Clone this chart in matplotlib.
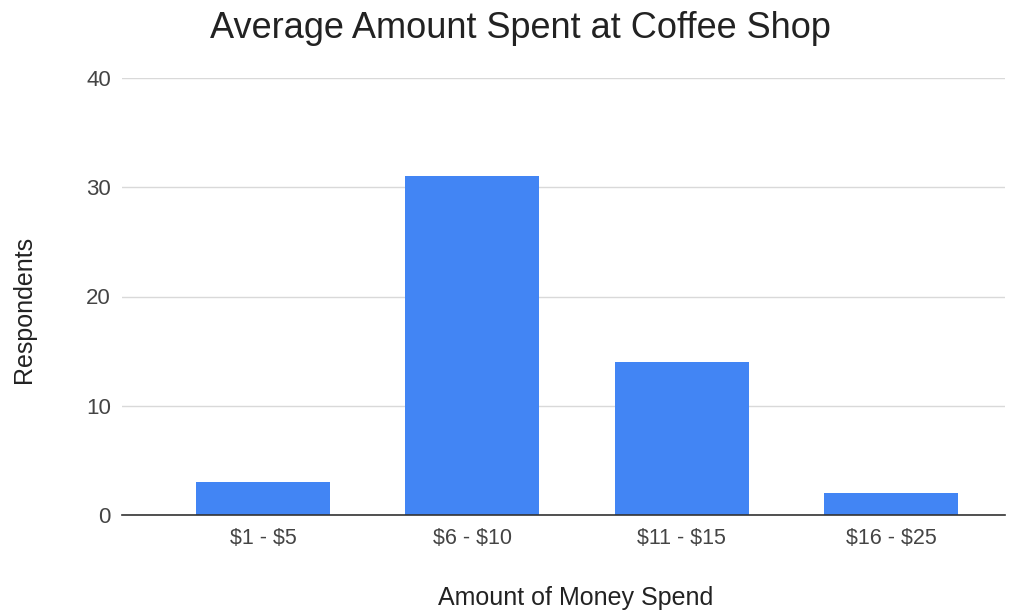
import matplotlib
matplotlib.use("Agg")
import matplotlib.pyplot as plt

categories = ["$1 - $5", "$6 - $10", "$11 - $15", "$16 - $25"]
respondents = [3, 31, 14, 2]
y_ticks = [0, 10, 20, 30, 40]

plt.rcParams['font.family'] = ['Liberation Sans', 'DejaVu Sans']

fig = plt.figure(figsize=(10.2, 6.14), dpi=100)
ax = fig.add_axes([122 / 1020, 1 - 515 / 614, (1005 - 122) / 1020, (515 - 78) / 614])

x = list(range(len(categories)))
ax.bar(x, respondents, width=0.64, color="#4285F4", zorder=3)

ax.set_ylim(0, 40)
ax.set_xlim(-0.674, 3.545)
ax.set_yticks(y_ticks)
ax.set_yticklabels([str(v) for v in y_ticks], fontsize=16, color="#444444")
ax.set_xticks(x)
ax.set_xticklabels([c.replace("$", r"\$") for c in categories], fontsize=15.5, color="#444444")
ax.tick_params(axis="both", length=0)
ax.tick_params(axis="y", pad=8)
ax.tick_params(axis="x", pad=9)

ax.grid(axis="y", color="#d9d9d9", linewidth=1, zorder=0)
for s in ["top", "right", "left"]:
    ax.spines[s].set_visible(False)
ax.spines["bottom"].set_color("#333333")
ax.spines["bottom"].set_linewidth(1.2)
ax.spines["bottom"].set_zorder(4)

fig.text(520 / 1020, 1 - 29 / 614, "Average Amount Spent at Coffee Shop",
         ha="center", va="center", fontsize=26, color="#222222")
fig.text(576 / 1020, 1 - 598 / 614, "Amount of Money Spend",
         ha="center", va="center", fontsize=18, color="#222222")
fig.text(24 / 1020, 1 - 309 / 614, "Respondents", rotation=90,
         ha="center", va="center", fontsize=18, color="#222222")

fig.savefig("out.png", dpi=100)
